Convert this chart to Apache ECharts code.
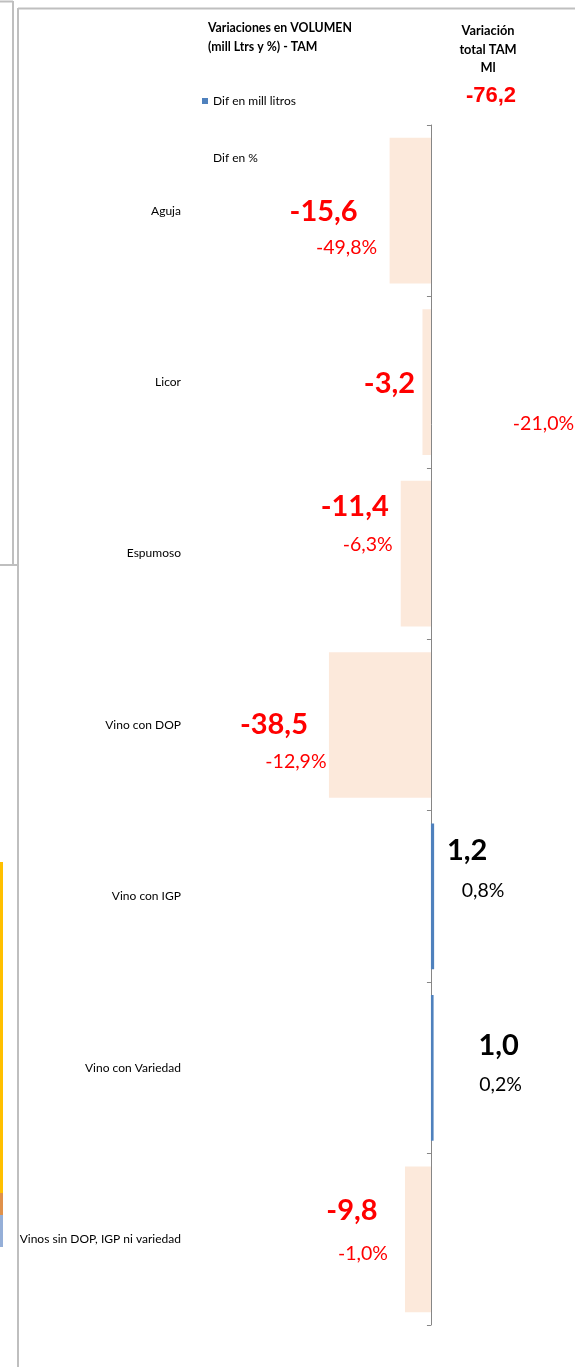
<!DOCTYPE html>
<html>
<head>
<meta charset="utf-8">
<script src="https://cdn.jsdelivr.net/npm/echarts@6/dist/echarts.min.js"></script>
<style>
  html, body { margin: 0; padding: 0; background: #fff; }
  #chart { width: 575px; height: 1367px; }
</style>
</head>
<body>
<div id="chart"></div>
<script>
// values
const categories = ['Aguja', 'Licor', 'Espumoso', 'Vino con DOP', 'Vino con IGP', 'Vino con Variedad', 'Vinos sin DOP, IGP ni variedad'];
const difMill = [-15.6, -3.2, -11.4, -38.5, 1.2, 1.0, -9.8];
const difPct = [-49.8, -21.0, -6.3, -12.9, 0.8, 0.2, -1.0];
const totalTam = -76.2;

// hand-placed label offsets (px from the bar end), like the excel original
const millOffsets = [[-66, 1], [-33, 1], [-46, -47], [-55, 0], [33, -46], [65, -22], [-53, -29]];
const pctOffsets = [[-43, 37], [121, 42], [-33, -9], [-33, 37], [49, -6], [67, 17], [-42, 14]];

const FONT = 'Lato';
const fmt = (v) => v.toFixed(1).replace('.', ',');
const labelColor = (v) => (v < 0 ? '#ff0000' : '#000000');

const chart = echarts.init(document.getElementById('chart'));

const barData = difMill.map(v => ({
  value: v,
  itemStyle: { color: v < 0 ? '#fce9db' : '#4f81bd' }
}));

const millLabels = difMill.map((v, i) => ({
  value: [v, categories[i]],
  label: { offset: millOffsets[i], color: labelColor(v) }
}));

const pctLabels = difMill.map((v, i) => ({
  value: [v, categories[i]],
  label: { offset: pctOffsets[i], color: labelColor(difPct[i]) }
}));

const frameColor = '#bfbfbf';
const xMin = -80, xMax = 54;
const gridLeft = 219, gridRight = 1;
// px from grid left to the zero line
const zeroShift = (575 - gridLeft - gridRight) * (-xMin) / (xMax - xMin);

const option = {
  backgroundColor: '#fff',
  animation: false,
  title: [
    {
      text: 'Variaciones en VOLUMEN\n(mill Ltrs y %) - TAM',
      left: 203, top: 14,
      textStyle: { fontFamily: FONT, fontSize: 12.3, fontWeight: 'bold', color: '#000', lineHeight: 19 }
    },
    {
      text: 'Variación\ntotal TAM\nMl',
      left: 483, top: 17, textAlign: 'center',
      textStyle: { fontFamily: FONT, fontSize: 12.8, fontWeight: 'bold', color: '#000', lineHeight: 18.5 }
    },
    {
      text: fmt(totalTam),
      left: 486, top: 80, textAlign: 'center',
      textStyle: { fontFamily: 'Liberation Sans', fontSize: 22, fontWeight: 'bold', color: '#ff0000' }
    }
  ],
  legend: {
    orient: 'vertical',
    left: 197, top: 90,
    itemWidth: 6, itemHeight: 6, itemGap: 45,
    textStyle: { fontFamily: FONT, fontSize: 12, color: '#000' },
    data: [
      { name: 'Dif en mill litros', icon: 'rect', itemStyle: { color: '#4f81bd' } },
      { name: 'Dif en %', icon: 'rect', itemStyle: { color: 'rgba(0,0,0,0)' } }
    ]
  },
  grid: {
    left: gridLeft, right: gridRight, top: 125, bottom: 42,
    containLabel: false, outerBoundsMode: 'none'
  },
  xAxis: {
    type: 'value',
    min: xMin, max: xMax,
    show: false
  },
  yAxis: {
    type: 'category',
    data: categories,
    inverse: true,
    position: 'left',
    offset: -zeroShift,
    axisLine: { onZero: false, lineStyle: { color: '#868686', width: 1 } },
    axisTick: { show: true, length: 4, lineStyle: { color: '#868686' } },
    axisLabel: {
      margin: 250,
      fontFamily: FONT, fontSize: 12, color: '#000'
    },
    splitLine: { show: false }
  },
  series: [
    {
      name: 'Dif en mill litros',
      type: 'bar',
      barCategoryGap: '15%',
      data: barData,
      z: 1
    },
    {
      name: 'Dif en %',
      type: 'scatter',
      symbolSize: 1,
      itemStyle: { color: 'rgba(0,0,0,0)', opacity: 1 },
      silent: true,
      label: {
        show: true, position: 'inside', opacity: 1,
        fontFamily: FONT, fontSize: 19.5,
        formatter: (p) => fmt(difPct[p.dataIndex]) + '%'
      },
      data: pctLabels,
      z: 3
    },
    {
      name: 'mill',
      type: 'scatter',
      symbolSize: 1,
      itemStyle: { color: 'rgba(0,0,0,0)', opacity: 1 },
      silent: true,
      label: {
        show: true, position: 'inside', opacity: 1,
        fontFamily: FONT, fontSize: 29, fontWeight: 'bold',
        formatter: (p) => fmt(difMill[p.dataIndex])
      },
      data: millLabels,
      z: 3
    }
  ],
  graphic: [
    // neighbouring cells/frames cropped into the picture
    { type: 'line', shape: { x1: 0, y1: 1.5, x2: 13, y2: 1.5 }, style: { stroke: frameColor, lineWidth: 2 } },
    { type: 'line', shape: { x1: 13, y1: 1, x2: 13, y2: 566 }, style: { stroke: frameColor, lineWidth: 2 } },
    { type: 'line', shape: { x1: 0, y1: 565, x2: 18, y2: 565 }, style: { stroke: frameColor, lineWidth: 2 } },
    { type: 'line', shape: { x1: 18, y1: 8.5, x2: 575, y2: 8.5 }, style: { stroke: frameColor, lineWidth: 2 } },
    { type: 'line', shape: { x1: 18, y1: 8, x2: 18, y2: 1367 }, style: { stroke: frameColor, lineWidth: 2 } },
    { type: 'rect', shape: { x: 0, y: 862, width: 3, height: 331 }, style: { fill: '#ffc000' } },
    { type: 'rect', shape: { x: 0, y: 1193, width: 3, height: 22 }, style: { fill: '#e0914a' } },
    { type: 'rect', shape: { x: 0, y: 1215, width: 3, height: 32 }, style: { fill: '#95afd8' } }
  ]
};

chart.setOption(option);
window.addEventListener('resize', () => chart.resize());
</script>
</body>
</html>
